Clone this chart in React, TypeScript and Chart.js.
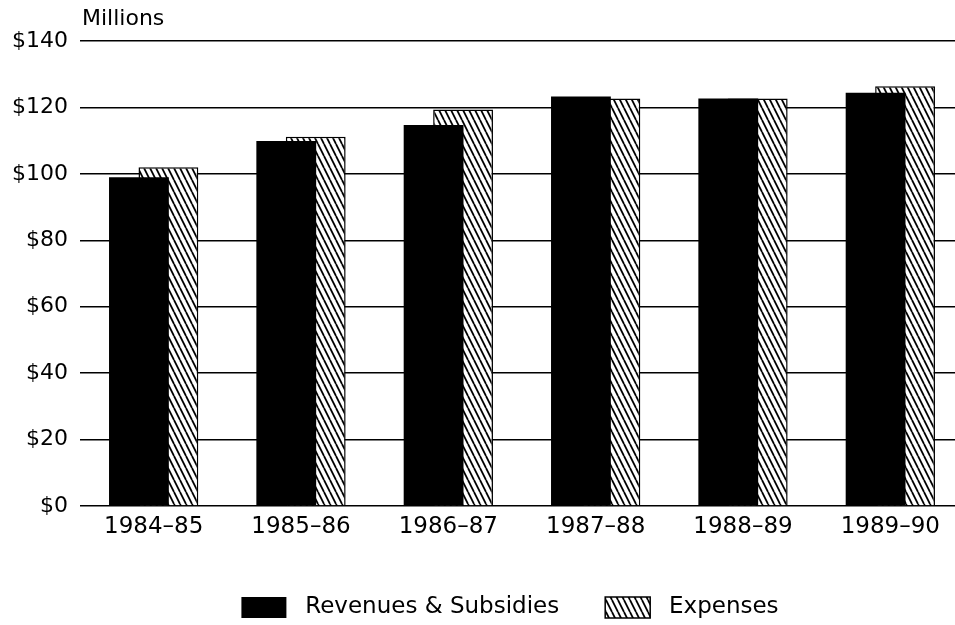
import React, { useEffect, useRef } from "react";
import { Chart, registerables } from "chart.js";

Chart.register(...registerables);

const categories = ["1984–85", "1985–86", "1986–87", "1987–88", "1988–89", "1989–90"];
const revenues = [99.0, 109.9, 114.7, 123.3, 122.7, 124.4];
const expenses = [102.0, 111.2, 119.4, 122.7, 122.7, 126.4];
const seriesNames = ["Revenues & Subsidies", "Expenses"];
const yTicks = [0, 20, 40, 60, 80, 100, 120, 140];
const unitLabel = "Millions";

const FONT = '"DejaVu Sans", sans-serif';
const LEGEND_SHIFT = 28;

function makeHatch(): CanvasPattern | string {
  const c = document.createElement("canvas");
  c.width = 6;
  c.height = 12;
  const g = c.getContext("2d");
  if (!g) return "#fff";
  g.fillStyle = "#fff";
  g.fillRect(0, 0, 6, 12);
  g.strokeStyle = "#000";
  g.lineWidth = 1.8;
  for (const dx of [-6, 0, 6]) {
    g.beginPath();
    g.moveTo(dx, 0);
    g.lineTo(dx + 6, 12);
    g.stroke();
  }
  const p = g.createPattern(c, "repeat");
  return p || "#fff";
}

const unitPlugin = {
  id: "unitLabel",
  afterLayout(chart: any) {
    if (chart.legend) {
      chart.legend.left += LEGEND_SHIFT;
      chart.legend.right += LEGEND_SHIFT;
    }
  },
  afterDraw(chart: any) {
    const ctx = chart.ctx;
    ctx.save();
    ctx.font = `22px ${FONT}`;
    ctx.fillStyle = "#000";
    ctx.textAlign = "left";
    ctx.textBaseline = "middle";
    ctx.fillText(unitLabel, chart.chartArea.left + 2, 19);
    ctx.restore();
  },
};

export default function App() {
  const ref = useRef<HTMLCanvasElement | null>(null);
  useEffect(() => {
    if (!ref.current) return;
    const hatch = makeHatch();
    const chart = new Chart(ref.current, {
      type: "bar",
      data: {
        labels: categories,
        datasets: [
          {
            label: seriesNames[0],
            data: revenues,
            backgroundColor: "#000",
            borderColor: "#000",
            borderWidth: 0,
            categoryPercentage: 0.4,
            barPercentage: 2.03,
          },
          {
            label: seriesNames[1],
            data: expenses,
            backgroundColor: hatch as any,
            borderColor: "#000",
            borderWidth: 1.5,
            categoryPercentage: 0.4,
            barPercentage: 2.03,
          },
        ],
      },
      options: {
        responsive: false,
        animation: false,
        layout: { padding: { top: 41, left: 0, right: 0, bottom: -4 } },
        plugins: {
          tooltip: { enabled: false },
          legend: {
            position: "bottom",
            labels: {
              color: "#000",
              font: { size: 23, family: FONT },
              boxWidth: 45,
              boxHeight: 21,
              padding: 46,
              generateLabels: (ch: any) =>
                Chart.defaults.plugins.legend.labels
                  .generateLabels(ch)
                  .map((l: any) => ({ ...l, text: " " + l.text })),
            },
          },
        },
        scales: {
          x: {
            grid: { display: false, drawTicks: false },
            border: { display: false },
            ticks: { color: "#000", font: { size: 23, family: FONT }, padding: 7, maxRotation: 0 },
            afterFit: (s: any) => {
              s.height = 44;
            },
          },
          y: {
            min: 0,
            max: 140,
            afterBuildTicks: (s: any) => {
              s.ticks = yTicks.map((v) => ({ value: v }));
            },
            grid: { color: "#000", lineWidth: 1.5, drawTicks: false },
            border: { display: false },
            ticks: {
              color: "#000",
              font: { size: 22, family: FONT },
              padding: 12,
              callback: (v: any) => "$" + v,
            },
            afterFit: (s: any) => {
              s.width = 80;
            },
          },
        },
      },
      plugins: [unitPlugin],
    });
    return () => chart.destroy();
  }, []);
  return (
    <canvas
      ref={ref}
      width={964}
      height={625}
      style={{ position: "fixed", left: 0, top: 0, display: "block", background: "#fff" }}
    />
  );
}
